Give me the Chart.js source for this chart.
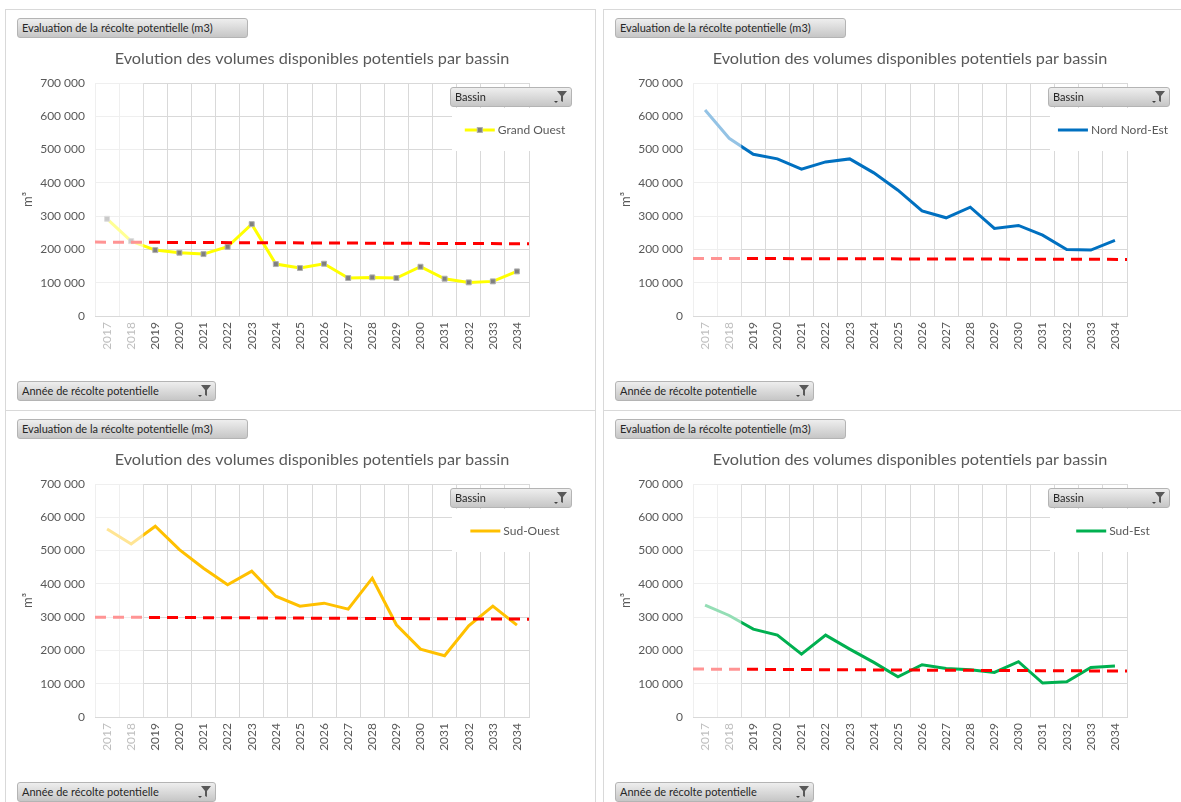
<!DOCTYPE html>
<html lang="fr">
<head>
<meta charset="utf-8">
<title>Evolution des volumes disponibles potentiels par bassin</title>
<script src="https://cdn.jsdelivr.net/npm/chart.js@4.4.1/dist/chart.umd.min.js"></script>
<style>
  body { margin: 0; background: #fff; width: 1181px; height: 802px; overflow: hidden; position: relative; font-family: Lato, "Open Sans", sans-serif; }
  .panneau { position: absolute; width: 591px; height: 402px; border: 1px solid #d9d9d9; box-sizing: border-box; background: #fff; overflow: hidden; }
  .panneau canvas { position: absolute; left: 9px; top: 31px; }
  .bouton { position: absolute; height: 20px; box-sizing: border-box; border: 1px solid #b4b4b4; border-radius: 3px;
            background: linear-gradient(#eeeeee, #c6c6c6); font-size: 11px; color: #262626; line-height: 18px;
            padding-left: 4px; white-space: nowrap; }
  .bouton svg { position: absolute; right: 3px; top: 2px; }
</style>
</head>
<body>

<script>
// données (m3)
const annees = ['2017', '2018', '2019', '2020', '2021', '2022', '2023', '2024', '2025',
                '2026', '2027', '2028', '2029', '2030', '2031', '2032', '2033', '2034'];
const anneesEstompees = ['2017', '2018'];

const grandOuest = [292000, 225000, 198000, 190000, 186000, 208000, 276000, 156000, 144000,
                    157000, 114000, 116000, 114000, 148000, 112000, 101000, 104000, 134000];
const nordNordEst = [619000, 534000, 486000, 472000, 441000, 463000, 472000, 430000, 378000,
                     316000, 295000, 327000, 263000, 272000, 243000, 200000, 198000, 227000];
const sudOuest = [565000, 520000, 573000, 503000, 447000, 397000, 438000, 363000, 333000,
                  342000, 324000, 417000, 277000, 204000, 184000, 274000, 333000, 276000];
const sudEst = [336000, 305000, 264000, 246000, 189000, 246000, 204000, 164000, 121000,
                157000, 146000, 142000, 134000, 166000, 102000, 106000, 149000, 153000];

// ligne de référence en pointillés : valeur au début et à la fin de l'axe
const seuilDebut = [222000, 173000, 300000, 144000];
const seuilFin = [217000, 170000, 294000, 138000];

const bassins = ['Grand Ouest', 'Nord Nord-Est', 'Sud-Ouest', 'Sud-Est'];
const series = [grandOuest, nordNordEst, sudOuest, sudEst];

const titre = 'Evolution des volumes disponibles potentiels par bassin';
const couleurs = ['#ffff00', '#0070c0', '#ffc000', '#00b050'];
const marqueurs = [true, false, false, false];
const positions = [[5, 9], [603, 9], [5, 410], [603, 410]];

const gris = '#595959';
const police = 'Lato, "Open Sans", sans-serif';

function milliers(v) {
    return String(v).replace(/\B(?=(\d{3})+(?!\d))/g, ' ');
}

const filtre = '<svg width="16" height="14" viewBox="0 0 16 14"><path d="M5 1h10l-4 5v6l-2-1V6z" fill="#595959"/><path d="M2 11h4l-2 2z" fill="#404040"/></svg>';

// voile blanc sur les années passées
const voile = {
    id: 'voile',
    afterDatasetsDraw(chart) {
        const {ctx, chartArea, scales} = chart;
        const n = anneesEstompees.length;
        const xFin = (scales.x.getPixelForValue(n - 1) + scales.x.getPixelForValue(n)) / 2;
        ctx.save();
        ctx.fillStyle = 'rgba(255,255,255,0.58)';
        ctx.fillRect(chartArea.left - 3, chartArea.top, xFin - chartArea.left + 3, chartArea.bottom - chartArea.top);
        ctx.restore();
    }
};

// légende façon Excel, posée dans le coin haut droit
const legende = {
    id: 'legende',
    afterDraw(chart) {
        const {ctx, chartArea} = chart;
        const ds = chart.data.datasets[0];
        const gauche = chartArea.right - 77;
        ctx.save();
        ctx.fillStyle = '#fff';
        ctx.fillRect(gauche, chartArea.top + 25, 125, 43);
        ctx.font = '12px ' + police;
        const largeur = 30 + 3 + ctx.measureText(ds.label).width;
        const x0 = chartArea.right - 14 - largeur / 2;
        const y = chartArea.top + 47;
        ctx.strokeStyle = ds.borderColor;
        ctx.lineWidth = 3;
        ctx.beginPath();
        ctx.moveTo(x0, y);
        ctx.lineTo(x0 + 30, y);
        ctx.stroke();
        if (ds.pointRadius > 0) {
            ctx.fillStyle = ds.pointBackgroundColor;
            ctx.strokeStyle = ds.pointBorderColor;
            ctx.lineWidth = 1;
            ctx.fillRect(x0 + 12.5, y - 2.5, 5, 5);
            ctx.strokeRect(x0 + 12.5, y - 2.5, 5, 5);
        }
        ctx.fillStyle = gris;
        ctx.textBaseline = 'middle';
        ctx.fillText(ds.label, x0 + 33, y);
        ctx.restore();
    }
};

bassins.forEach((nom, i) => {
    const panneau = document.createElement('div');
    panneau.className = 'panneau';
    panneau.style.left = positions[i][0] + 'px';
    panneau.style.top = positions[i][1] + 'px';
    panneau.innerHTML =
        '<canvas width="580" height="330"></canvas>' +
        '<div class="bouton" style="left:11px;top:8px;width:231px">Evaluation de la récolte potentielle (m3)</div>' +
        '<div class="bouton" style="left:444px;top:77px;width:122px">Bassin' + filtre + '</div>' +
        '<div class="bouton" style="left:11px;top:371px;width:199px">Année de récolte potentielle' + filtre + '</div>';
    document.body.appendChild(panneau);

    new Chart(panneau.querySelector('canvas'), {
        type: 'line',
        data: {
            labels: annees,
            datasets: [
                {
                    label: nom,
                    data: series[i],
                    borderColor: couleurs[i],
                    backgroundColor: couleurs[i],
                    borderWidth: 3,
                    tension: 0,
                    pointStyle: 'rect',
                    pointRadius: marqueurs[i] ? 3.5 : 0,
                    pointBackgroundColor: '#7f7f7f',
                    pointBorderColor: '#b0b0b0',
                    pointBorderWidth: 1,
                    order: 1
                },
                {
                    label: 'Référence',
                    xAxisID: 'xs',
                    data: [{x: -0.5, y: seuilDebut[i]}, {x: annees.length - 0.5, y: seuilFin[i]}],
                    borderColor: '#ff0000',
                    borderWidth: 3,
                    borderDash: [11, 7],
                    pointRadius: 0,
                    order: 0
                }
            ]
        },
        options: {
            animation: false,
            responsive: false,
            events: [],
            layout: {padding: {right: 66}},
            plugins: {
                legend: {display: false},
                tooltip: {enabled: false},
                title: {
                    display: true,
                    text: titre,
                    fullSize: false,
                    color: gris,
                    font: {family: police, size: 16.25, weight: 'normal'},
                    padding: {top: 8, bottom: 14.5}
                }
            },
            scales: {
                x: {
                    type: 'category',
                    offset: true,
                    grid: {offset: true, color: '#d9d9d9', drawTicks: false},
                    border: {color: '#d9d9d9'},
                    ticks: {
                        autoSkip: false,
                        minRotation: 90,
                        maxRotation: 90,
                        padding: 6,
                        font: {family: police, size: 12},
                        color: c => anneesEstompees.includes(annees[c.index]) ? '#bfbfbf' : gris
                    },
                    afterFit: s => { s.height = 55; }
                },
                xs: {type: 'linear', display: false, min: -0.5, max: annees.length - 0.5},
                y: {
                    min: 0,
                    max: 700000,
                    grid: {color: '#d9d9d9', drawTicks: false},
                    border: {color: '#d9d9d9'},
                    ticks: {stepSize: 100000, padding: 10, color: gris, font: {family: police, size: 12}, callback: v => milliers(v)},
                    title: {display: true, text: 'm³', color: gris, font: {family: police, size: 13}, padding: {top: 5, bottom: 0}},
                    afterFit: s => { s.width = 80; }
                }
            }
        },
        plugins: [voile, legende]
    });
});
</script>
</body>
</html>
